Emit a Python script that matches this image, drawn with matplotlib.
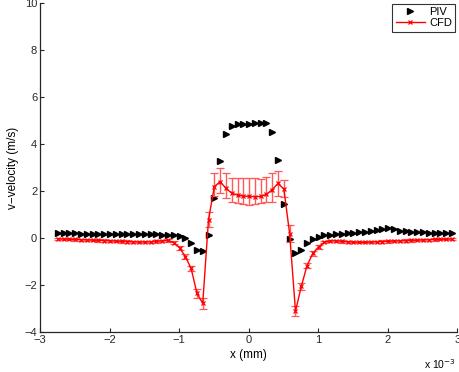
import matplotlib
matplotlib.use("Agg")
import matplotlib.pyplot as plt
from matplotlib.lines import Line2D
import numpy as np

plt.rcParams['font.family'] = ['Liberation Sans', 'DejaVu Sans']

# measurement positions across the channel (mm)
x_mm = [-2.744, -2.661, -2.578, -2.494, -2.411, -2.328, -2.244, -2.161, -2.078,
        -1.994, -1.911, -1.828, -1.744, -1.661, -1.578, -1.494, -1.411, -1.328,
        -1.244, -1.161, -1.078, -0.994, -0.911, -0.828, -0.744, -0.661, -0.578,
        -0.494, -0.411, -0.328, -0.244, -0.161, -0.078,
        0.005, 0.088, 0.172, 0.255, 0.338, 0.422, 0.505, 0.588, 0.672, 0.755,
        0.838, 0.922, 1.005, 1.088, 1.172, 1.255, 1.338, 1.422, 1.505, 1.588,
        1.672, 1.755, 1.838, 1.922, 2.005, 2.088, 2.172, 2.255, 2.338, 2.422,
        2.505, 2.588, 2.672, 2.755, 2.838, 2.922]

# PIV measured v-velocity (m/s)
piv_v = [0.21, 0.21, 0.21, 0.21, 0.20, 0.20, 0.20, 0.20, 0.20,
         0.19, 0.19, 0.19, 0.19, 0.18, 0.18, 0.18, 0.17, 0.17,
         0.16, 0.16, 0.14, 0.10, 0.00, -0.21, -0.50, -0.53, 0.12,
         1.70, 3.28, 4.43, 4.78, 4.85, 4.87,
         4.88, 4.91, 4.92, 4.92, 4.51, 3.35, 1.45, -0.03, -0.61, -0.50,
         -0.20, -0.03, 0.07, 0.12, 0.15, 0.17, 0.19, 0.21, 0.23, 0.25,
         0.27, 0.30, 0.34, 0.38, 0.42, 0.38, 0.33, 0.29, 0.27, 0.26,
         0.25, 0.24, 0.24, 0.24, 0.24, 0.24]

# CFD predicted v-velocity (m/s)
cfd_v = [-0.03, -0.03, -0.04, -0.05, -0.06, -0.07, -0.08, -0.09, -0.10,
         -0.11, -0.12, -0.13, -0.14, -0.15, -0.16, -0.16, -0.15, -0.13,
         -0.11, -0.09, -0.18, -0.40, -0.78, -1.28, -2.34, -2.77, 0.80,
         2.20, 2.41, 2.13, 1.92, 1.84, 1.80,
         1.78, 1.77, 1.78, 1.87, 2.07, 2.34, 2.09, 0.20, -3.10, -2.05,
         -1.16, -0.64, -0.36, -0.16, -0.11, -0.11, -0.13, -0.15, -0.16, -0.17,
         -0.17, -0.16, -0.15, -0.14, -0.13, -0.12, -0.11, -0.10, -0.09, -0.08,
         -0.07, -0.06, -0.05, -0.04, -0.04, -0.03]

# CFD uncertainty below / above each value (m/s)
cfd_err_lo = [0.05, 0.05, 0.05, 0.05, 0.05, 0.05, 0.05, 0.05, 0.05,
              0.05, 0.05, 0.05, 0.05, 0.05, 0.05, 0.05, 0.05, 0.05,
              0.05, 0.05, 0.06, 0.08, 0.10, 0.12, 0.18, 0.22, 0.30,
              0.40, 0.50, 0.43, 0.36, 0.32, 0.34,
              0.36, 0.31, 0.29, 0.31, 0.51, 0.54, 0.32, 0.35, 0.22, 0.15,
              0.12, 0.10, 0.08, 0.06, 0.05, 0.05, 0.05, 0.05, 0.05, 0.05,
              0.05, 0.05, 0.05, 0.05, 0.05, 0.05, 0.05, 0.05, 0.05, 0.05,
              0.05, 0.05, 0.05, 0.05, 0.05, 0.05]
cfd_err_hi = [0.05, 0.05, 0.05, 0.05, 0.05, 0.05, 0.05, 0.05, 0.05,
              0.05, 0.05, 0.05, 0.05, 0.05, 0.05, 0.05, 0.05, 0.05,
              0.05, 0.05, 0.06, 0.08, 0.10, 0.12, 0.18, 0.22, 0.30,
              0.60, 0.57, 0.66, 0.65, 0.71, 0.75,
              0.79, 0.78, 0.75, 0.75, 0.73, 0.54, 0.41, 0.35, 0.22, 0.15,
              0.12, 0.10, 0.08, 0.06, 0.05, 0.05, 0.05, 0.05, 0.05, 0.05,
              0.05, 0.05, 0.05, 0.05, 0.05, 0.05, 0.05, 0.05, 0.05, 0.05,
              0.05, 0.05, 0.05, 0.05, 0.05, 0.05]

x_ticks = [-3, -2, -1, 0, 1, 2, 3]
y_ticks = [-4, -2, 0, 2, 4, 6, 8, 10]

fig = plt.figure(figsize=(4.59, 3.72), dpi=100)
ax = fig.add_axes([0.0871, 0.1067, 0.9096, 0.8844])

ax.plot(x_mm, piv_v, linestyle='none', marker='>', color='black',
        markersize=4.8)
ax.errorbar(x_mm, cfd_v, yerr=[cfd_err_lo, cfd_err_hi], color='red',
            ecolor='#ff5a5a', elinewidth=1.0, capsize=3.2, capthick=1.0,
            linewidth=1.0, marker='x', markersize=3, markeredgewidth=0.9)

ax.set_xlim(-3, 3)
ax.set_ylim(-4, 10)
ax.set_xticks(x_ticks)
ax.set_yticks(y_ticks)
ax.set_xticklabels([f"{t}".replace('-', '\u2212') for t in x_ticks])
ax.set_yticklabels([f"{t}".replace('-', '\u2212') for t in y_ticks])

for side in ('top', 'right'):
    ax.spines[side].set_visible(False)
for side in ('left', 'bottom'):
    ax.spines[side].set_color('#262626')
    ax.spines[side].set_linewidth(0.9)
ax.tick_params(direction='in', length=3, width=0.8, labelsize=8,
               colors='#262626', pad=2)

ax.set_xlabel('x (mm)', fontsize=8.5, labelpad=3)
ax.set_ylabel('v\u2212velocity (m/s)', fontsize=8.5, labelpad=4)

ax.text(0.995, -0.075, r'x 10$^{-3}$', transform=ax.transAxes, fontsize=7.5,
        ha='right', va='top')

handles = [
    Line2D([], [], linestyle='none', marker='>', color='black', markersize=4.8),
    Line2D([], [], color='red', linewidth=1.0, marker='x', markersize=3,
           markeredgewidth=0.9),
]
leg = ax.legend(handles, ['PIV', 'CFD'], loc='upper right',
                bbox_to_anchor=(0.9945, 0.9985),
                fontsize=8, frameon=True, fancybox=False, borderpad=0.3,
                handlelength=2.6, handletextpad=0.4, labelspacing=0.1,
                borderaxespad=0.0)
leg.get_frame().set_edgecolor('black')
leg.get_frame().set_linewidth(0.8)

fig.savefig('out.png', dpi=100)
